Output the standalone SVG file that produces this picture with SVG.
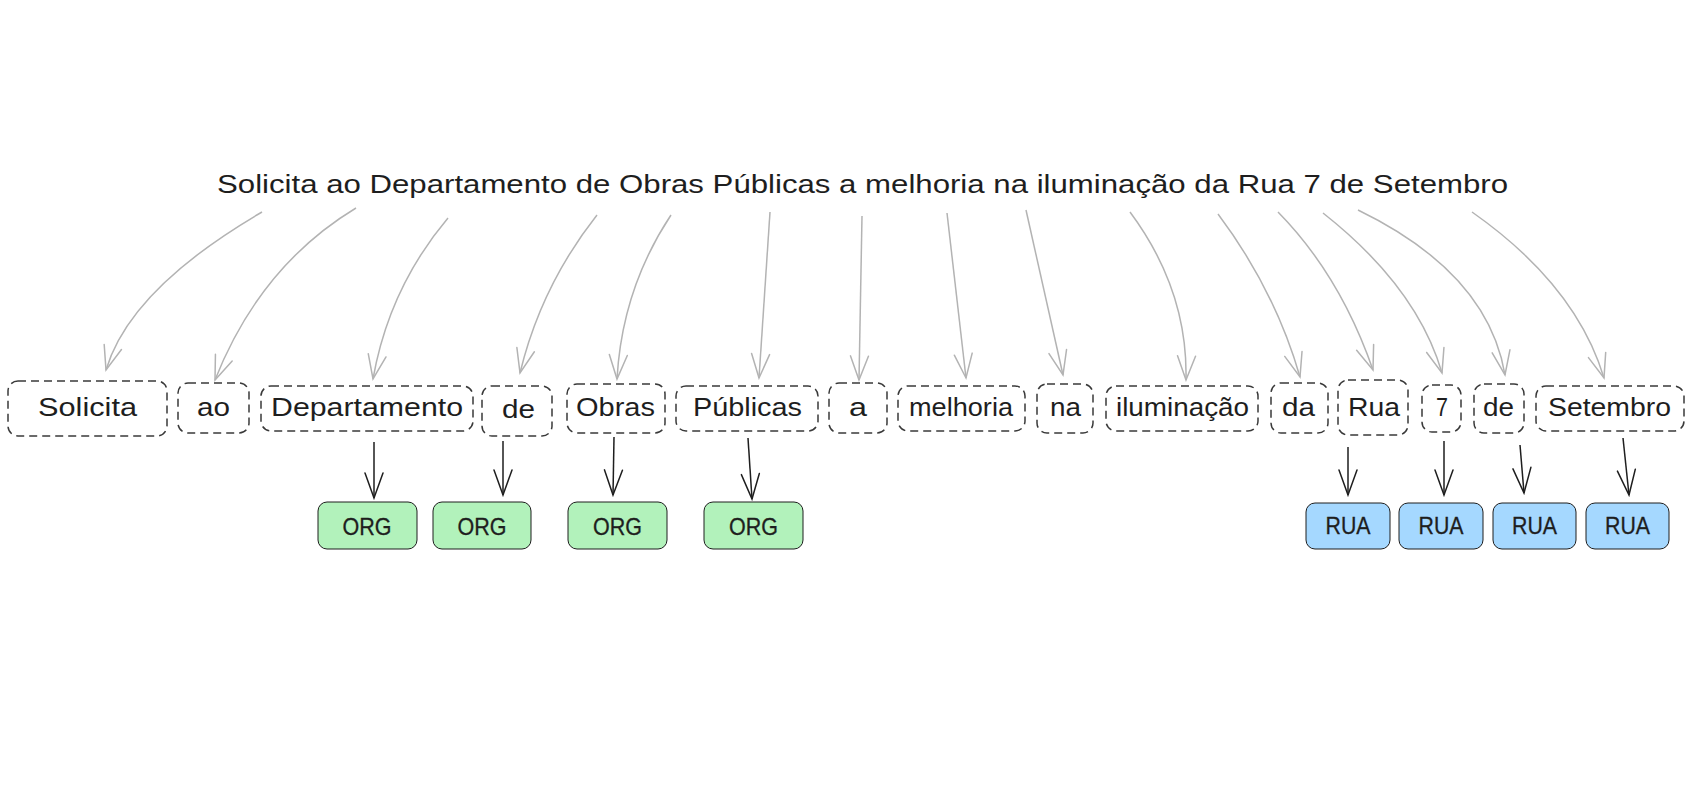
<svg xmlns="http://www.w3.org/2000/svg" width="1694" height="800" viewBox="0 0 1694 800">
<style>
.bg{fill:#ffffff}
.title{font-family:"Liberation Sans",Arial,sans-serif;font-size:26px;fill:#1e1e1e}
.tok rect{fill:none;stroke:#3a3a3a;stroke-width:1.5;stroke-dasharray:8 5}
.tok text{font-family:"Liberation Sans",Arial,sans-serif;font-size:26px;fill:#1e1e1e;text-anchor:middle}
.tag rect{stroke:#1e1e1e;stroke-width:1}
.org rect{fill:#b2f2bb}
.rua rect{fill:#a5d8ff}
.tag text{font-family:"Liberation Sans",Arial,sans-serif;font-size:24px;fill:#1e1e1e;text-anchor:middle;stroke:#1e1e1e;stroke-width:0.3}
.g{fill:none;stroke:#b3b3b3;stroke-width:1.5;marker-end:url(#ag)}
.k{fill:none;stroke:#1e1e1e;stroke-width:1.5;marker-end:url(#ak)}
</style>
<defs>
<marker id="ag" viewBox="-27 -12 29 24" refX="0" refY="0" markerWidth="29" markerHeight="24" markerUnits="userSpaceOnUse" orient="auto">
<path d="M-24,-9 L0,0 L-24,9" fill="none" stroke="#b3b3b3" stroke-width="1.5" stroke-linecap="round"/>
</marker>
<marker id="ak" viewBox="-28 -12 30 24" refX="0" refY="0" markerWidth="30" markerHeight="24" markerUnits="userSpaceOnUse" orient="auto">
<path d="M-25,-9 L0,0 L-25,9" fill="none" stroke="#1e1e1e" stroke-width="1.5" stroke-linecap="round"/>
</marker>
</defs>
<rect class="bg" x="0" y="0" width="1694" height="800"/>

<g id="sentence">
<text class="title" x="217" y="193" textLength="1291" lengthAdjust="spacingAndGlyphs">Solicita ao Departamento de Obras Públicas a melhoria na iluminação da Rua 7 de Setembro</text>
</g>

<g id="tok-solicita" class="tok"><rect x="8" y="381" width="159" height="55" rx="10"/><text x="87.5" y="416" textLength="99" lengthAdjust="spacingAndGlyphs">Solicita</text></g>
<g id="tok-ao" class="tok"><rect x="178" y="383" width="71" height="50" rx="10"/><text x="213.5" y="416" textLength="33" lengthAdjust="spacingAndGlyphs">ao</text></g>
<g id="tok-departamento" class="tok"><rect x="261" y="386" width="212" height="45" rx="10"/><text x="367" y="416" textLength="192" lengthAdjust="spacingAndGlyphs">Departamento</text></g>
<g id="tok-de1" class="tok"><rect x="482" y="386" width="70" height="50" rx="10"/><text x="518.5" y="418" textLength="33" lengthAdjust="spacingAndGlyphs">de</text></g>
<g id="tok-obras" class="tok"><rect x="567" y="384" width="98" height="49" rx="10"/><text x="615.5" y="416" textLength="79" lengthAdjust="spacingAndGlyphs">Obras</text></g>
<g id="tok-publicas" class="tok"><rect x="676" y="386" width="142" height="45" rx="10"/><text x="747.5" y="416" textLength="109" lengthAdjust="spacingAndGlyphs">Públicas</text></g>
<g id="tok-a" class="tok"><rect x="829" y="383" width="58" height="50" rx="10"/><text x="858" y="416" textLength="18" lengthAdjust="spacingAndGlyphs">a</text></g>
<g id="tok-melhoria" class="tok"><rect x="898" y="386" width="127" height="45" rx="10"/><text x="961" y="416" textLength="104" lengthAdjust="spacingAndGlyphs">melhoria</text></g>
<g id="tok-na" class="tok"><rect x="1037" y="384" width="56" height="49" rx="10"/><text x="1065.5" y="416" textLength="31" lengthAdjust="spacingAndGlyphs">na</text></g>
<g id="tok-iluminacao" class="tok"><rect x="1106" y="386" width="152" height="45" rx="10"/><text x="1182.5" y="416" textLength="133" lengthAdjust="spacingAndGlyphs">iluminação</text></g>
<g id="tok-da" class="tok"><rect x="1271" y="383" width="57" height="50" rx="10"/><text x="1298.5" y="416" textLength="33" lengthAdjust="spacingAndGlyphs">da</text></g>
<g id="tok-rua" class="tok"><rect x="1338" y="380" width="70" height="55" rx="10"/><text x="1374" y="416" textLength="52" lengthAdjust="spacingAndGlyphs">Rua</text></g>
<g id="tok-7" class="tok"><rect x="1422" y="385" width="39" height="47" rx="10"/><text x="1442" y="416" textLength="12" lengthAdjust="spacingAndGlyphs">7</text></g>
<g id="tok-de2" class="tok"><rect x="1474" y="384" width="50" height="49" rx="10"/><text x="1498.5" y="416" textLength="31" lengthAdjust="spacingAndGlyphs">de</text></g>
<g id="tok-setembro" class="tok"><rect x="1536" y="386" width="148" height="45" rx="10"/><text x="1609.5" y="416" textLength="123" lengthAdjust="spacingAndGlyphs">Setembro</text></g>

<g id="tag-org-1" class="tag org"><rect x="318" y="502" width="99" height="47" rx="9"/><text x="367" y="535" textLength="49" lengthAdjust="spacingAndGlyphs">ORG</text></g>
<g id="tag-org-2" class="tag org"><rect x="433" y="502" width="98" height="47" rx="9"/><text x="482" y="535" textLength="49" lengthAdjust="spacingAndGlyphs">ORG</text></g>
<g id="tag-org-3" class="tag org"><rect x="568" y="502" width="99" height="47" rx="9"/><text x="617.5" y="535" textLength="49" lengthAdjust="spacingAndGlyphs">ORG</text></g>
<g id="tag-org-4" class="tag org"><rect x="704" y="502" width="99" height="47" rx="9"/><text x="753.5" y="535" textLength="49" lengthAdjust="spacingAndGlyphs">ORG</text></g>
<g id="tag-rua-1" class="tag rua"><rect x="1306" y="503" width="84" height="46" rx="9"/><text x="1348" y="534" textLength="45" lengthAdjust="spacingAndGlyphs">RUA</text></g>
<g id="tag-rua-2" class="tag rua"><rect x="1399" y="503" width="84" height="46" rx="9"/><text x="1441" y="534" textLength="45" lengthAdjust="spacingAndGlyphs">RUA</text></g>
<g id="tag-rua-3" class="tag rua"><rect x="1493" y="503" width="83" height="46" rx="9"/><text x="1534.5" y="534" textLength="45" lengthAdjust="spacingAndGlyphs">RUA</text></g>
<g id="tag-rua-4" class="tag rua"><rect x="1586" y="503" width="83" height="46" rx="9"/><text x="1627.5" y="534" textLength="45" lengthAdjust="spacingAndGlyphs">RUA</text></g>

<g id="connectors">
<path class="g" d="M262,212 Q130,289 106,370"/>
<path class="g" d="M356,208 Q260,266 215,380"/>
<path class="g" d="M448,218 Q389,288 373,379"/>
<path class="g" d="M597,215 Q541,286 520,373"/>
<path class="g" d="M671,215 Q622,289 617,379"/>
<path class="g" d="M770,212 L759,378"/>
<path class="g" d="M862,216 L859,380"/>
<path class="g" d="M947,213 L966,378"/>
<path class="g" d="M1026,210 L1063,375"/>
<path class="g" d="M1130,212 Q1188,290 1186,380"/>
<path class="g" d="M1218,214 Q1275,290 1300,377"/>
<path class="g" d="M1278,212 Q1340,275 1373,370"/>
<path class="g" d="M1323,213 Q1417,287 1442,373"/>
<path class="g" d="M1358,210 Q1488,273 1505,375"/>
<path class="g" d="M1472,212 Q1576,285 1604,378"/>

<path class="k" d="M374,442 L374,498"/>
<path class="k" d="M503,441 L503,495"/>
<path class="k" d="M614,437 L613,495"/>
<path class="k" d="M748,438 L752,499"/>
<path class="k" d="M1348,447 L1348,495"/>
<path class="k" d="M1444,441 L1444,495"/>
<path class="k" d="M1520,445 L1524,493"/>
<path class="k" d="M1623,438 L1629,495"/>
</g>
</svg>
